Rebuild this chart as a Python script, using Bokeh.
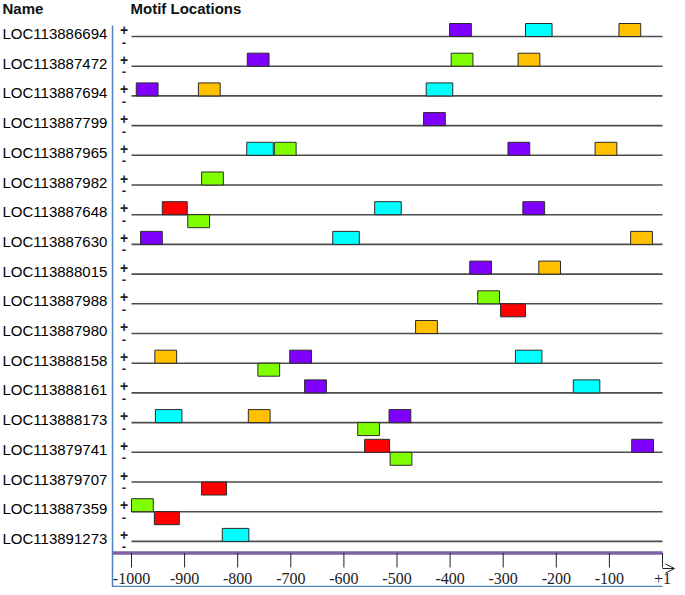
from bokeh.plotting import figure
from bokeh.models import Range1d, ColumnDataSource, Arrow, OpenHead
from bokeh.core.properties import value
from bokeh.embed import file_html
from bokeh.resources import INLINE

# ---------------- data ----------------
genes = ["LOC113886694", "LOC113887472", "LOC113887694", "LOC113887799",
         "LOC113887965", "LOC113887982", "LOC113887648", "LOC113887630",
         "LOC113888015", "LOC113887988", "LOC113887980", "LOC113888158",
         "LOC113888161", "LOC113888173", "LOC113879741", "LOC113879707",
         "LOC113887359", "LOC113891273"]

motif_names = ["Motif 1", "Motif 2", "Motif 3", "Motif 4", "Motif 5"]
motif_colors = ["#8000FF", "#00FFFF", "#FFC000", "#80FF00", "#FF0000"]
motif_lengths = [41, 50, 41, 41, 47]

# one entry per motif hit: gene index, motif index, start (bp), strand
hit_gene = [0, 0, 0,
            1, 1, 1,
            2, 2, 2,
            3,
            4, 4, 4, 4,
            5,
            6, 6, 6, 6,
            7, 7, 7,
            8, 8,
            9, 9,
            10,
            11, 11, 11, 11,
            12, 12,
            13, 13, 13, 13,
            14, 14, 14,
            15,
            16, 16,
            17]
hit_motif = [0, 1, 2,
             0, 3, 2,
             0, 2, 1,
             0,
             1, 3, 0, 2,
             3,
             4, 3, 1, 0,
             0, 1, 2,
             0, 2,
             3, 4,
             2,
             2, 3, 0, 1,
             0, 1,
             1, 2, 3, 0,
             4, 3, 0,
             4,
             3, 4,
             1]
hit_start = [-401, -258, -82,
             -782, -398, -272,
             -991, -874, -445,
             -450,
             -783, -731, -291, -127,
             -868,
             -942, -894, -542, -263,
             -983, -621, -60,
             -363, -233,
             -348, -305,
             -465,
             -956, -762, -702, -277,
             -674, -168,
             -955, -780, -574, -515,
             -561, -513, -58,
             -868,
             -1000, -957,
             -829]
hit_strand = ["+", "+", "+",
              "+", "+", "+",
              "+", "+", "+",
              "+",
              "+", "+", "+", "+",
              "+",
              "+", "-", "+", "+",
              "+", "+", "+",
              "+", "+",
              "+", "-",
              "+",
              "+", "-", "+", "+",
              "+", "+",
              "+", "+", "-", "+",
              "+", "-", "+",
              "-",
              "+", "-",
              "+"]

seq_start, seq_end = -1000, 0
tick_values = [-1000, -900, -800, -700, -600, -500, -400, -300, -200, -100, 0]
tick_labels = ["-1000", "-900", "-800", "-700", "-600", "-500", "-400",
               "-300", "-200", "-100", "+1"]

# ---------------- layout / scales ----------------
W, H = 677, 587
PX_PER_BP = 0.531
PX_PER_ROW = 29.7
x_start = seq_start - 131 / PX_PER_BP
x_end = x_start + W / PX_PER_BP
y_top = -36 / PX_PER_ROW
y_bottom = y_top + H / PX_PER_ROW


def bx(px):
    return x_start + px / PX_PER_BP


def by(py):
    return y_top + py / PX_PER_ROW


p = figure(width=W, height=H, x_range=Range1d(x_start, x_end),
           y_range=Range1d(y_bottom, y_top), output_backend="svg",
           toolbar_location=None, min_border=0,
           x_axis_location=None, y_axis_location=None)
p.grid.visible = False
p.outline_line_color = None
p.background_fill_color = "white"
p.border_fill_color = "white"

rows = list(range(len(genes)))

# sequence lines
p.segment(x0=[seq_start] * len(rows), x1=[seq_end] * len(rows), y0=rows, y1=rows,
          line_color="#4d4d4d", line_width=1.6)

# motif boxes
BOX_H = 13 / PX_PER_ROW
left = hit_start
right = [s + motif_lengths[m] for s, m in zip(hit_start, hit_motif)]
top = [g - BOX_H if st == "+" else g for g, st in zip(hit_gene, hit_strand)]
bottom = [g if st == "+" else g + BOX_H for g, st in zip(hit_gene, hit_strand)]
src = ColumnDataSource(dict(left=left, right=right, top=top, bottom=bottom,
                            color=[motif_colors[m] for m in hit_motif],
                            motif=[motif_names[m] for m in hit_motif]))
p.quad(left="left", right="right", top="top", bottom="bottom", source=src,
       fill_color="color", line_color="#2b2b2b", line_width=1)

# gene names
p.text(x=[bx(2)] * len(rows), y=[r - 3 / PX_PER_ROW for r in rows],
       text=genes, text_font=value("Liberation Sans"), text_font_size="15px",
       text_align="left", text_baseline="middle", text_color="black")

# strand signs
sx = bx(123.5)
p.text(x=[sx] * len(rows), y=[r - 6.5 / PX_PER_ROW for r in rows], text=["+"] * len(rows),
       text_font=value("Liberation Sans"), text_font_size="14px", text_font_style="bold",
       text_align="center", text_baseline="middle", text_color="#222222")
p.text(x=[sx] * len(rows), y=[r + 5.5 / PX_PER_ROW for r in rows], text=["-"] * len(rows),
       text_font=value("Liberation Sans"), text_font_size="13px", text_font_style="bold",
       text_align="center", text_baseline="middle", text_color="#222222")

# headers
p.text(x=[bx(2), bx(130)], y=[by(8), by(8)], text=["Name", "Motif Locations"],
       text_font=value("Liberation Sans"), text_font_size="15px", text_font_style="bold",
       text_align="left", text_baseline="middle", text_color="#111111")

# blue frame
fx = bx(112)
p.line(x=[fx, fx, seq_end], y=[by(25), by(586), by(586)],
       line_color="#4f81bd", line_width=1.5)

# purple axis line
ax_y = by(552.5)
p.segment(x0=[fx], x1=[seq_end], y0=[ax_y], y1=[ax_y], line_color="#7f62a6", line_width=3.5)

# ticks + labels
p.segment(x0=tick_values, x1=tick_values, y0=[ax_y] * len(tick_values),
          y1=[by(567)] * len(tick_values), line_color="#222222", line_width=1)
p.text(x=tick_values, y=[by(577.5)] * len(tick_values), text=tick_labels,
       text_font=value("Liberation Serif"), text_font_size="16px",
       text_align="center", text_baseline="middle", text_color="#222222")

# arrow
p.add_layout(Arrow(end=OpenHead(size=9, line_width=1, line_color="#222222"),
                   x_start=seq_end, y_start=by(568), x_end=bx(674), y_end=by(568),
                   line_color="#222222", line_width=1))

open("out.html", "w").write(file_html(p, INLINE))
